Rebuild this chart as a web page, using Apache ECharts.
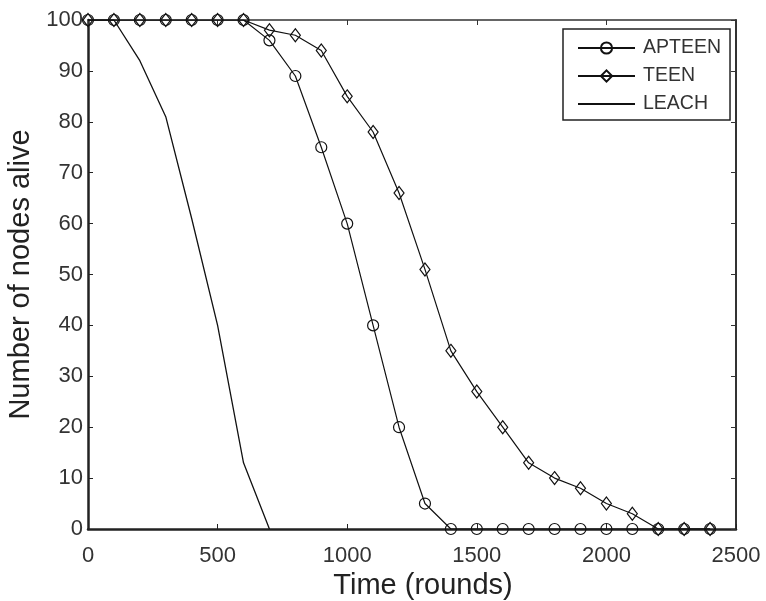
<!DOCTYPE html>
<html>
<head>
<meta charset="utf-8">
<script src="https://cdn.jsdelivr.net/npm/echarts@6/dist/echarts.min.js"></script>
<style>
html,body{margin:0;padding:0;background:#fff;}
#chart{width:766px;height:601px;}
</style>
</head>
<body>
<div id="chart"></div>
<script>
const rounds = [0,100,200,300,400,500,600,700,800,900,1000,1100,1200,1300,1400,1500,1600,1700,1800,1900,2000,2100,2200,2300,2400];
const apteen = [100,100,100,100,100,100,100,96,89,75,60,40,20,5,0,0,0,0,0,0,0,0,0,0,0];
const teen   = [100,100,100,100,100,100,100,98,97,94,85,78,66,51,35,27,20,13,10,8,5,3,0,0,0];
const leachRounds = [0,100,200,300,400,500,600,700];
const leach = [100,100,92,81,61,40,13,0];
const xTicks = [0,500,1000,1500,2000,2500];
const yTicks = [0,10,20,30,40,50,60,70,80,90,100];

const font = 'Liberation Sans, Arial, Helvetica, sans-serif';
const pair = (xs, ys) => xs.map((x, i) => [x, ys[i]]);
const hollow = {color: 'rgba(255,255,255,0)', borderColor: '#111', borderWidth: 1.2};

const chart = echarts.init(document.getElementById('chart'), null, {renderer: 'canvas'});
chart.setOption({
  animation: false,
  backgroundColor: '#fff',
  grid: {left: 88, right: 30, top: 20, bottom: 72, containLabel: false, outerBoundsMode: 'none'},
  legend: {
    orient: 'vertical',
    left: 563, top: 29,
    padding: [9, 9, 6, 14],
    itemGap: 8,
    itemWidth: 57, itemHeight: 14,
    borderColor: '#222', borderWidth: 1.5,
    backgroundColor: '#fff',
    textStyle: {fontFamily: font, fontSize: 19.5, color: '#333', padding: [0,0,0,3]},
    data: ['APTEEN', 'TEEN', 'LEACH']
  },
  xAxis: [{
    type: 'value', min: 0, max: 2500, interval: 500,
    name: 'Time (rounds)', nameLocation: 'middle', nameGap: 42,
    nameTextStyle: {fontFamily: font, fontSize: 29, color: '#222', padding: [0,0,0,22]},
    axisLine: {lineStyle: {color: '#222', width: 2.5}},
    axisTick: {inside: true, length: 5, lineStyle: {color: '#222', width: 1}},
    axisLabel: {fontFamily: font, fontSize: 22, color: '#333', margin: 16,
      formatter: v => xTicks.includes(v) ? String(v) : ''},
    splitLine: {show: false}
  }, {
    type: 'value', position: 'top', min: 0, max: 2500, interval: 500,
    axisLine: {show: true, onZero: false, lineStyle: {color: '#333', width: 1.5}},
    axisTick: {inside: true, length: 5, lineStyle: {color: '#333'}},
    axisLabel: {show: false}, splitLine: {show: false}
  }],
  yAxis: [{
    type: 'value', min: 0, max: 100, interval: 10,
    name: 'Number of nodes alive', nameLocation: 'middle', nameGap: 50,
    nameTextStyle: {fontFamily: font, fontSize: 29, color: '#222'},
    axisLine: {show: true, lineStyle: {color: '#222', width: 2.5}},
    axisTick: {show: true, inside: true, length: 5, lineStyle: {color: '#222', width: 1}},
    axisLabel: {fontFamily: font, fontSize: 22, color: '#333', margin: 5,
      formatter: v => yTicks.includes(v) ? String(v) : ''},
    splitLine: {show: false}
  }, {
    type: 'value', position: 'right', min: 0, max: 100, interval: 10,
    axisLine: {show: true, onZero: false, lineStyle: {color: '#333', width: 2}},
    axisTick: {show: true, inside: true, length: 5, lineStyle: {color: '#333'}},
    axisLabel: {show: false}, splitLine: {show: false}
  }],
  series: [{
    name: 'LEACH', type: 'line', data: pair(leachRounds, leach),
    symbol: 'line', showSymbol: false, lineStyle: {color: '#111', width: 1.3},
    itemStyle: {color: '#111', borderColor: '#111'}, z: 2
  }, {
    name: 'TEEN', type: 'line', data: pair(rounds, teen),
    symbol: 'diamond', symbolSize: [10, 13], showAllSymbol: true,
    lineStyle: {color: '#111', width: 1.2}, itemStyle: hollow, z: 3
  }, {
    name: 'APTEEN', type: 'line', data: pair(rounds, apteen),
    symbol: 'circle', symbolSize: 11, showAllSymbol: true,
    lineStyle: {color: '#111', width: 1.2}, itemStyle: hollow, z: 4
  }]
});
</script>
</body>
</html>
